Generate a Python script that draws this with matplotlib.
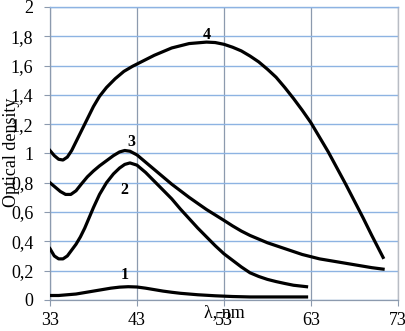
import matplotlib
matplotlib.use("Agg")
import matplotlib.pyplot as plt
from matplotlib.ticker import FuncFormatter

plt.rcParams['font.family'] = ['Liberation Serif', 'DejaVu Serif']

# curve 1
x1 = [33, 34, 35, 36, 37, 38, 39, 40, 41, 42, 43, 44, 45, 46, 47, 48, 49, 50,
      52, 54, 56, 62.5]
y1 = [0.03, 0.03, 0.035, 0.04, 0.05, 0.06, 0.07, 0.08, 0.087, 0.09, 0.088, 0.08,
      0.07, 0.06, 0.052, 0.045, 0.04, 0.035, 0.028, 0.023, 0.02, 0.02]

# curve 2
x2 = [33, 33.5, 34, 34.5, 35, 35.5, 36, 36.5, 37, 37.5, 38, 38.7, 39.5, 40.3, 41,
      41.6, 42.2, 43, 44, 45, 46, 47, 48, 49, 50, 51, 52, 53, 54, 55, 56, 57, 58,
      59, 60, 61, 62.5]
y2 = [0.35, 0.30, 0.28, 0.28, 0.30, 0.34, 0.38, 0.43, 0.49, 0.56, 0.63, 0.72, 0.80,
      0.86, 0.90, 0.925, 0.935, 0.92, 0.87, 0.81, 0.75, 0.69, 0.62, 0.555, 0.49,
      0.43, 0.37, 0.315, 0.27, 0.225, 0.185, 0.16, 0.14, 0.125, 0.112, 0.10, 0.09]

# curve 3
x3 = [33, 33.6, 34.2, 34.8, 35.4, 36, 36.6, 37.3, 38, 38.7, 39.5, 40.3, 41, 41.6,
      42.2, 43, 44, 45, 46, 47, 48, 49, 50.2, 51, 52, 53, 54, 55, 56, 57, 58, 59,
      60, 61, 62, 63, 64, 66, 68, 70, 71.3]
y3 = [0.80, 0.77, 0.74, 0.72, 0.72, 0.745, 0.79, 0.84, 0.88, 0.915, 0.95, 0.985,
      1.01, 1.02, 1.015, 0.99, 0.94, 0.89, 0.84, 0.79, 0.745, 0.70, 0.65, 0.617,
      0.58, 0.543, 0.505, 0.47, 0.44, 0.415, 0.39, 0.37, 0.35, 0.33, 0.31, 0.295,
      0.28, 0.26, 0.24, 0.22, 0.21]

# curve 4
x4 = [33, 33.5, 34, 34.5, 35, 35.5, 36, 36.5, 37, 37.5, 38, 38.7, 39.5, 40.5, 41.5,
      42.5, 43.5, 45, 47, 49, 51, 52, 53, 54, 55, 56, 57, 58, 59, 60, 61, 62, 63,
      64, 65, 66, 67, 68, 69, 70, 71.3]
y4 = [1.02, 0.985, 0.96, 0.955, 0.975, 1.02, 1.08, 1.14, 1.20, 1.26, 1.32, 1.39,
      1.45, 1.51, 1.56, 1.595, 1.625, 1.67, 1.72, 1.75, 1.76, 1.757, 1.745, 1.725,
      1.70, 1.665, 1.625, 1.575, 1.52, 1.45, 1.375, 1.295, 1.21, 1.11, 1.01, 0.90,
      0.79, 0.675, 0.56, 0.44, 0.29]

curves = [(x1, y1), (x2, y2), (x3, y3), (x4, y4)]
curve_labels = ['1', '2', '3', '4']
label_pos = [(41.6, 0.17), (41.6, 0.75), (42.4, 1.08), (51.0, 1.81)]

x_ticks = [33, 43, 53, 63, 73]
y_ticks = [0, 0.2, 0.4, 0.6, 0.8, 1.0, 1.2, 1.4, 1.6, 1.8, 2.0]

hgrid = '#8db3e2'
vgrid = '#8c9aae'

fig = plt.figure(figsize=(4.06, 3.31), dpi=100)
ax = fig.add_axes([0.123, 0.094, 0.857, 0.885])

for x, y in curves:
    ax.plot(x, y, color='black', lw=2.3, solid_joinstyle='round', zorder=3)

for lab, (lx, ly) in zip(curve_labels, label_pos):
    ax.text(lx, ly, lab, fontsize=11.5, fontweight='bold', ha='center', va='center', zorder=4)

ax.set_xlim(33, 73)
ax.set_ylim(0, 2)
ax.set_xticks(x_ticks)
ax.set_yticks(y_ticks)

fmt = FuncFormatter(lambda v, p: ('%g' % round(v, 1)).replace('.', ','))
ax.yaxis.set_major_formatter(fmt)

ax.grid(axis='y', color=hgrid, lw=1.0, zorder=1)
ax.grid(axis='x', color=vgrid, lw=0.9, zorder=1)

ax.tick_params(axis='both', labelsize=13, length=4, width=0.8, color='#8c9aae', direction='out')
ax.tick_params(axis='y', pad=8)
ax.tick_params(axis='x', pad=5)

ax.spines['top'].set_color(hgrid)
ax.spines['top'].set_linewidth(1.0)
for s in ['left', 'bottom']:
    ax.spines[s].set_color('#8c9aae')
    ax.spines[s].set_linewidth(0.9)
ax.spines['right'].set_color('#b8bcc4')
ax.spines['right'].set_linewidth(1.0)

fig.text(0.028, 0.54, 'Optical density', rotation=90, fontsize=13, ha='center', va='center')
ax.text(53.0, -0.09, 'λ, nm', fontsize=13, ha='center', va='center', clip_on=False)

fig.savefig('out.png', dpi=100)
